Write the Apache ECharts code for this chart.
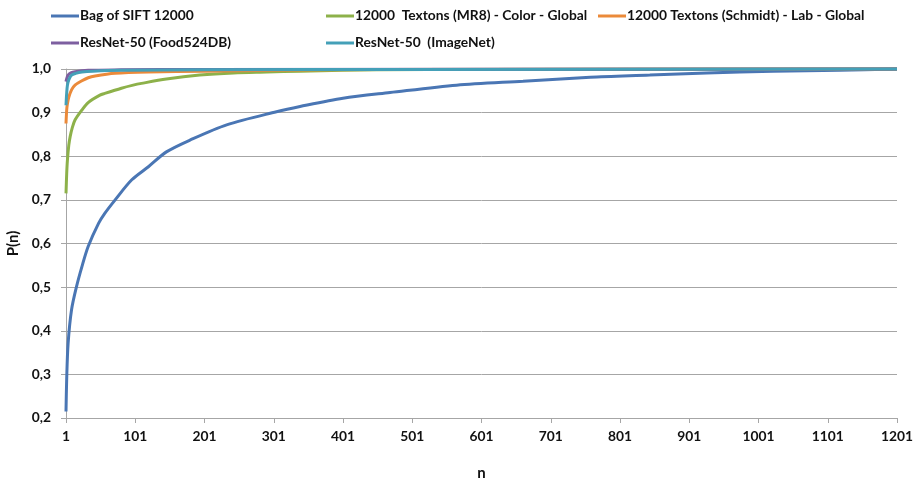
<!DOCTYPE html>
<html><head><meta charset="utf-8">
<script src="https://cdn.jsdelivr.net/npm/echarts@6/dist/echarts.min.js"></script>
<style>html,body{margin:0;padding:0;background:#fff}#c{width:919px;height:483px}</style>
</head><body><div id="c"></div>
<script>
const seriesNames = ['Bag of SIFT 12000', '12000  Textons (MR8) - Color - Global', '12000 Textons (Schmidt) - Lab - Global', 'ResNet-50 (Food524DB)', 'ResNet-50  (ImageNet)'];
const colors = ['#4A76B4', '#8DB14A', '#EB8A3A', '#7D5FA0', '#44A0B8'];
const xTicks = [1, 101, 201, 301, 401, 501, 601, 701, 801, 901, 1001, 1101, 1201];

const siftN = [1, 2, 4, 9, 16, 24, 33, 48, 57, 72, 96, 120, 146, 180, 233, 305, 339, 401, 469, 565, 661, 758, 844, 926, 1022, 1118, 1201];
const siftP = [0.215, 0.29, 0.37, 0.448, 0.50, 0.547, 0.593, 0.646, 0.669, 0.70, 0.746, 0.776, 0.81, 0.837, 0.872, 0.902, 0.914, 0.933, 0.946, 0.963, 0.972, 0.981, 0.986, 0.991, 0.995, 0.997, 1.0];

const mr8N = [1, 2, 3, 5, 7, 10, 14, 24, 33, 50, 57, 81, 98, 110, 146, 194, 243, 291, 339, 400, 450, 600, 1201];
const mr8P = [0.715, 0.76, 0.79, 0.825, 0.845, 0.865, 0.883, 0.906, 0.923, 0.94, 0.944, 0.956, 0.963, 0.967, 0.977, 0.986, 0.991, 0.993, 0.995, 0.997, 0.998, 0.999, 1.0];

const schN = [1, 2, 3, 5, 9, 14, 24, 33, 43, 72, 120, 200, 300, 450, 1201];
const schP = [0.875, 0.906, 0.92, 0.935, 0.952, 0.963, 0.973, 0.98, 0.984, 0.99, 0.993, 0.995, 0.997, 0.999, 1.0];

const foodN = [1, 2, 4, 8, 14, 33, 80, 200, 1201];
const foodP = [0.971, 0.978, 0.986, 0.991, 0.994, 0.997, 0.998, 0.999, 1.0];

const imgN = [1, 2, 3, 5, 9, 15, 24, 40, 80, 200, 500, 1201];
const imgP = [0.917, 0.945, 0.962, 0.975, 0.986, 0.99, 0.993, 0.995, 0.997, 0.998, 0.999, 1.0];

const allN = [siftN, mr8N, schN, foodN, imgN];
const allP = [siftP, mr8P, schP, foodP, imgP];

const FONT = 'Lato';
const legendPos = [[46, 4], [321, 4], [593, 4], [46, 31], [321, 31]];

const chart = echarts.init(document.getElementById('c'), null, {renderer: 'canvas'});
chart.setOption({
  animation: false,
  backgroundColor: '#fff',
  legend: seriesNames.map((nm, i) => ({
    data: [nm], left: legendPos[i][0], top: legendPos[i][1],
    icon: 'rect', itemWidth: 28, itemHeight: 3, itemGap: 0,
    textStyle: {fontFamily: FONT, fontWeight: 'bold', fontSize: 13.8, color: '#111', padding: [0, 0, 0, -4]},
    selectedMode: false
  })),
  grid: {left: 66, right: 22, top: 69, bottom: 65, containLabel: false, outerBoundsMode: 'none'},
  xAxis: {
    type: 'value', min: 1, max: 1201,
    name: 'n', nameLocation: 'middle', nameGap: 48,
    nameTextStyle: {fontFamily: FONT, fontWeight: 'bold', fontSize: 15, color: '#111'},
    axisLine: {show: true, lineStyle: {color: '#A6A6A6', width: 1}},
    axisTick: {show: true, customValues: xTicks, length: 5, lineStyle: {color: '#A6A6A6'}},
    axisLabel: {customValues: xTicks, fontFamily: FONT, fontWeight: 'bold', fontSize: 13.8, color: '#111', margin: 12,
      formatter: v => String(Math.round(v))},
    splitLine: {show: false}
  },
  yAxis: {
    type: 'value', min: 0.2, max: 1.0, interval: 0.1,
    name: 'P(n)', nameLocation: 'middle', nameGap: 44, nameRotate: 90,
    nameTextStyle: {fontFamily: FONT, fontWeight: 'bold', fontSize: 15, color: '#111'},
    axisLine: {show: true, lineStyle: {color: '#A6A6A6', width: 1}},
    axisTick: {show: true, length: 5, lineStyle: {color: '#A6A6A6'}},
    axisLabel: {fontFamily: FONT, fontWeight: 'bold', fontSize: 13.8, color: '#111', margin: 15,
      formatter: v => v.toFixed(1).replace('.', ',')},
    splitLine: {show: true, lineStyle: {color: '#A6A6A6', width: 1}}
  },
  series: seriesNames.map((nm, i) => ({
    name: nm, type: 'line', smooth: 0.3, showSymbol: false, clip: false,
    color: colors[i],
    lineStyle: {width: 3, color: colors[i]},
    data: allN[i].map((n, k) => [n, allP[i][k]])
  }))
});
</script></body></html>
